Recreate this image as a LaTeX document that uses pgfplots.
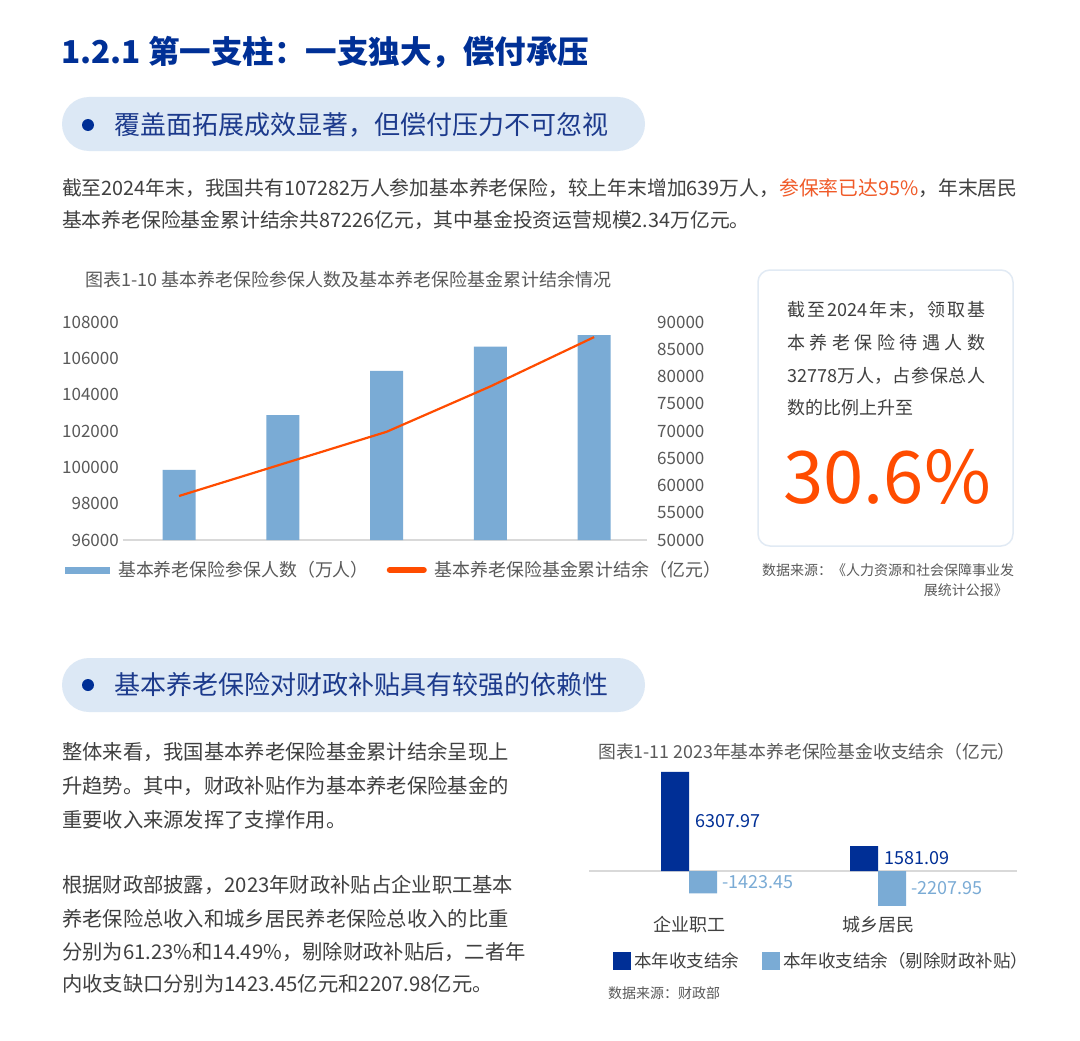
\documentclass[border=0pt]{standalone}
\usepackage{fontspec}
\setmainfont{Noto Sans CJK SC}
\usepackage{pgfplots}
\pgfplotsset{compat=1.18}

\definecolor{titleblue}{RGB}{0,48,150}
\definecolor{pillfill}{RGB}{220,232,245}
\definecolor{pilltext}{RGB}{28,58,140}
\definecolor{bodygray}{RGB}{64,64,64}
\definecolor{axisgray}{RGB}{89,89,89}
\definecolor{barblue}{RGB}{122,171,213}
\definecolor{lineorange}{RGB}{255,76,0}
\definecolor{hiorange}{RGB}{240,90,40}
\definecolor{darkbar}{RGB}{0,47,150}
\definecolor{boxline}{RGB}{225,234,244}
\definecolor{gridgray}{RGB}{217,217,217}
\newcommand\fs[1]{\fontsize{#1}{#1}\selectfont}
\pgfplotsset{plainticks/.style={scaled ticks=false,
  /pgf/number format/.cd, fixed, precision=0, 1000 sep={}, assume math mode=true}}

\begin{document}
\begin{tikzpicture}
\begin{scope}[x=1pt,y=-1pt]
\path[use as bounding box, fill=white] (0,0) rectangle (1080,1041);

% heading
\node[anchor=west, text=titleblue, font=\fs{31.5}\bfseries, inner sep=0] at (61,52) {1.2.1 第一支柱：一支独大，偿付承压};

% first pill
\fill[pillfill, rounded corners=27pt] (62,97) rectangle (645,151);
\fill[darkbar] (88,125) circle (6pt);
\node[anchor=west, text=pilltext, font=\fs{26}, inner sep=0] at (114,125) {覆盖面拓展成效显著，但偿付压力不可忽视};

\node[anchor=west, text=bodygray, font=\fs{19.8}, inner sep=0] at (62,188) {截至2024年末，我国共有107282万人参加基本养老保险，较上年末增加639万人，{\color{hiorange}参保率已达95\%}，年末居民};
\node[anchor=west, text=bodygray, font=\fs{19.8}, inner sep=0] at (62,220) {基本养老保险基金累计结余共87226亿元，其中基金投资运营规模2.34万亿元。};

\node[anchor=west, text=axisgray, font=\fs{18}, inner sep=0] at (85,280) {图表1-10 基本养老保险参保人数及基本养老保险基金累计结余情况};

% side box
\draw[boxline, line width=1.5pt, rounded corners=12pt] (758,270) rectangle (1013,546);
\node[anchor=west, text=bodygray, font=\fs{18}, inner sep=0] at (787,310) {\makebox[198pt][s]{截\hfill 至\hfill 2024\hfill 年\hfill 末，\hfill 领\hfill 取\hfill 基}};
\node[anchor=west, text=bodygray, font=\fs{18}, inner sep=0] at (787,343) {\makebox[198pt][s]{本\hfill 养\hfill 老\hfill 保\hfill 险\hfill 待\hfill 遇\hfill 人\hfill 数}};
\node[anchor=west, text=bodygray, font=\fs{18}, inner sep=0] at (787,376) {\makebox[198pt][s]{32778\hfill 万\hfill 人，\hfill 占\hfill 参\hfill 保\hfill 总\hfill 人}};
\node[anchor=west, text=bodygray, font=\fs{18}, inner sep=0] at (787,408) {数的比例上升至};
\node[anchor=west, text=lineorange, font=\fs{72.5}, inner sep=0] at (783,477) {30.6\%};
\node[anchor=west, text=axisgray, font=\fs{14}, inner sep=0] at (762,570) {数据来源：《人力资源和社会保障事业发};
\node[anchor=east, text=axisgray, font=\fs{14}, inner sep=0] at (1008,590) {展统计公报》};

% second pill
\fill[pillfill, rounded corners=27pt] (62,658) rectangle (645,712);
\fill[darkbar] (88,685) circle (6pt);
\node[anchor=west, text=pilltext, font=\fs{26}, inner sep=0] at (114,685) {基本养老保险对财政补贴具有较强的依赖性};

\foreach \yy/\tt in {752/整体来看，我国基本养老保险基金累计结余呈现上,
  786/升趋势。其中，财政补贴作为基本养老保险基金的,
  820/重要收入来源发挥了支撑作用。,
  885/根据财政部披露，2023年财政补贴占企业职工基本,
  919/养老保险总收入和城乡居民养老保险总收入的比重,
  952/分别为61.23\%和14.49\%，剔除财政补贴后，二者年,
  984/内收支缺口分别为1423.45亿元和2207.98亿元。}
  \node[anchor=west, text=bodygray, font=\fs{20.3}, inner sep=0] at (62,\yy) {\tt};

\node[anchor=west, text=axisgray, font=\fs{17.8}, inner sep=0] at (598,752) {图表1-11 2023年基本养老保险基金收支结余（亿元）};
\node[anchor=west, text=axisgray, font=\fs{14}, inner sep=0] at (608,993) {数据来源：财政部};
\end{scope}

% chart 1-10, left axis: insured persons
\begin{axis}[
  at={(123pt,-540pt)}, anchor=south west,
  scale only axis, width=524pt, height=218pt,
  xmin=-0.54, xmax=4.51, ymin=96000, ymax=108000,
  ytick={96000,98000,...,108000}, xtick=\empty,
  axis line style={draw=none}, major tick length=0pt, tick style={draw=none},
  plainticks,
  yticklabel style={font=\fs{17}, text=axisgray, inner sep=0pt, xshift=-4pt},
  extra y ticks={96000}, extra y tick labels={}, extra y tick style={grid=major},
  major grid style={draw=gridgray, line width=1.2pt},
  clip=false,
  legend columns=2, legend cell align=left,
  legend style={at={(-0.1107,-0.1376)}, anchor=west, draw=none, fill=none,
    inner sep=0pt, font=\fs{17.9}, text=axisgray,
    /tikz/every odd column/.append style={column sep=8pt},
    /tikz/every even column/.append style={column sep=18pt},
    nodes={inner sep=0pt}},
]
\addplot[ybar, bar width=33pt, fill=barblue, draw=none,
  legend image code/.code={\fill[barblue] (0pt,-3.5pt) rectangle (45pt,3.5pt);}]
  coordinates {(0,99865) (1,102871) (2,105307) (3,106643) (4,107282)};
\addlegendentry{基本养老保险参保人数（万人）}
\addlegendimage{legend image code/.code={\draw[lineorange, line width=6pt, line cap=round] (3pt,0pt) -- (37pt,0pt);}}
\addlegendentry{基本养老保险基金累计结余（亿元）}
\end{axis}

% chart 1-10, right axis: fund balance
\begin{axis}[
  at={(123pt,-540pt)}, anchor=south west,
  scale only axis, width=524pt, height=218pt,
  xmin=-0.54, xmax=4.51, ymin=50000, ymax=90000,
  ytick={50000,55000,...,90000}, xtick=\empty,
  hide x axis, axis y line*=right,
  y axis line style={draw=none}, major tick length=0pt, tick style={draw=none},
  plainticks,
  yticklabel style={font=\fs{17}, text=axisgray, inner sep=0pt, xshift=10pt},
]
\addplot[lineorange, line width=2.2pt, mark=none]
  coordinates {(0,58075) (1,63970) (2,69851) (3,78177) (4,87226)};
\end{axis}

% chart 1-11
\begin{axis}[
  at={(589pt,-770.3pt)}, anchor=north west,
  scale only axis, width=428pt, height=136.9pt,
  xmin=-0.529, xmax=1.735, ymin=-2300, ymax=6400,
  axis line style={draw=none}, major tick length=0pt, tick style={draw=none},
  ytick=\empty, xtick={0,1}, xticklabels={企业职工,城乡居民},
  xticklabel style={font=\fs{18}, text=bodygray, inner sep=0pt, yshift=-9pt},
  extra y ticks={0}, extra y tick labels={}, extra y tick style={grid=major},
  major grid style={draw=gridgray, line width=1.2pt},
  clip=false,
  legend columns=2, legend cell align=left,
  legend style={at={(0.0561,-0.393)}, anchor=west, draw=none, fill=none,
    inner sep=0pt, font=\fs{17.5}, text=bodygray,
    /tikz/every odd column/.append style={column sep=3pt},
    /tikz/every even column/.append style={column sep=23pt},
    nodes={inner sep=0pt}},
]
\addplot[ybar, bar width=28pt, bar shift=-14pt, fill=darkbar, draw=none,
  point meta=explicit symbolic, nodes near coords,
  visualization depends on={\thisrow{y} \as \rawy},
  nodes near coords style={anchor=west, inner sep=0pt, xshift=6pt,
    yshift={-0.007868*(\rawy)}, font=\fs{18}, text=darkbar},
  legend image code/.code={\fill[darkbar] (0pt,-9pt) rectangle (18pt,9pt);}]
  table[x=x, y=y, meta=lab] {
x y lab
0 6307.97 6307.97
1 1581.09 1581.09
};
\addlegendentry{本年收支结余}
\addplot[ybar, bar width=28pt, bar shift=14pt, fill=barblue, draw=none,
  point meta=explicit symbolic, nodes near coords,
  visualization depends on={\thisrow{y} \as \rawy},
  nodes near coords style={anchor=west, inner sep=0pt, xshift=33pt,
    yshift={-0.007868*(\rawy)}, font=\fs{18}, text=barblue},
  legend image code/.code={\fill[barblue] (0pt,-9pt) rectangle (18pt,9pt);}]
  table[x=x, y=y, meta=lab] {
x y lab
0 -1423.45 -1423.45
1 -2207.95 -2207.95
};
\addlegendentry{本年收支结余（剔除财政补贴）}
\end{axis}
\end{tikzpicture}
\end{document}
